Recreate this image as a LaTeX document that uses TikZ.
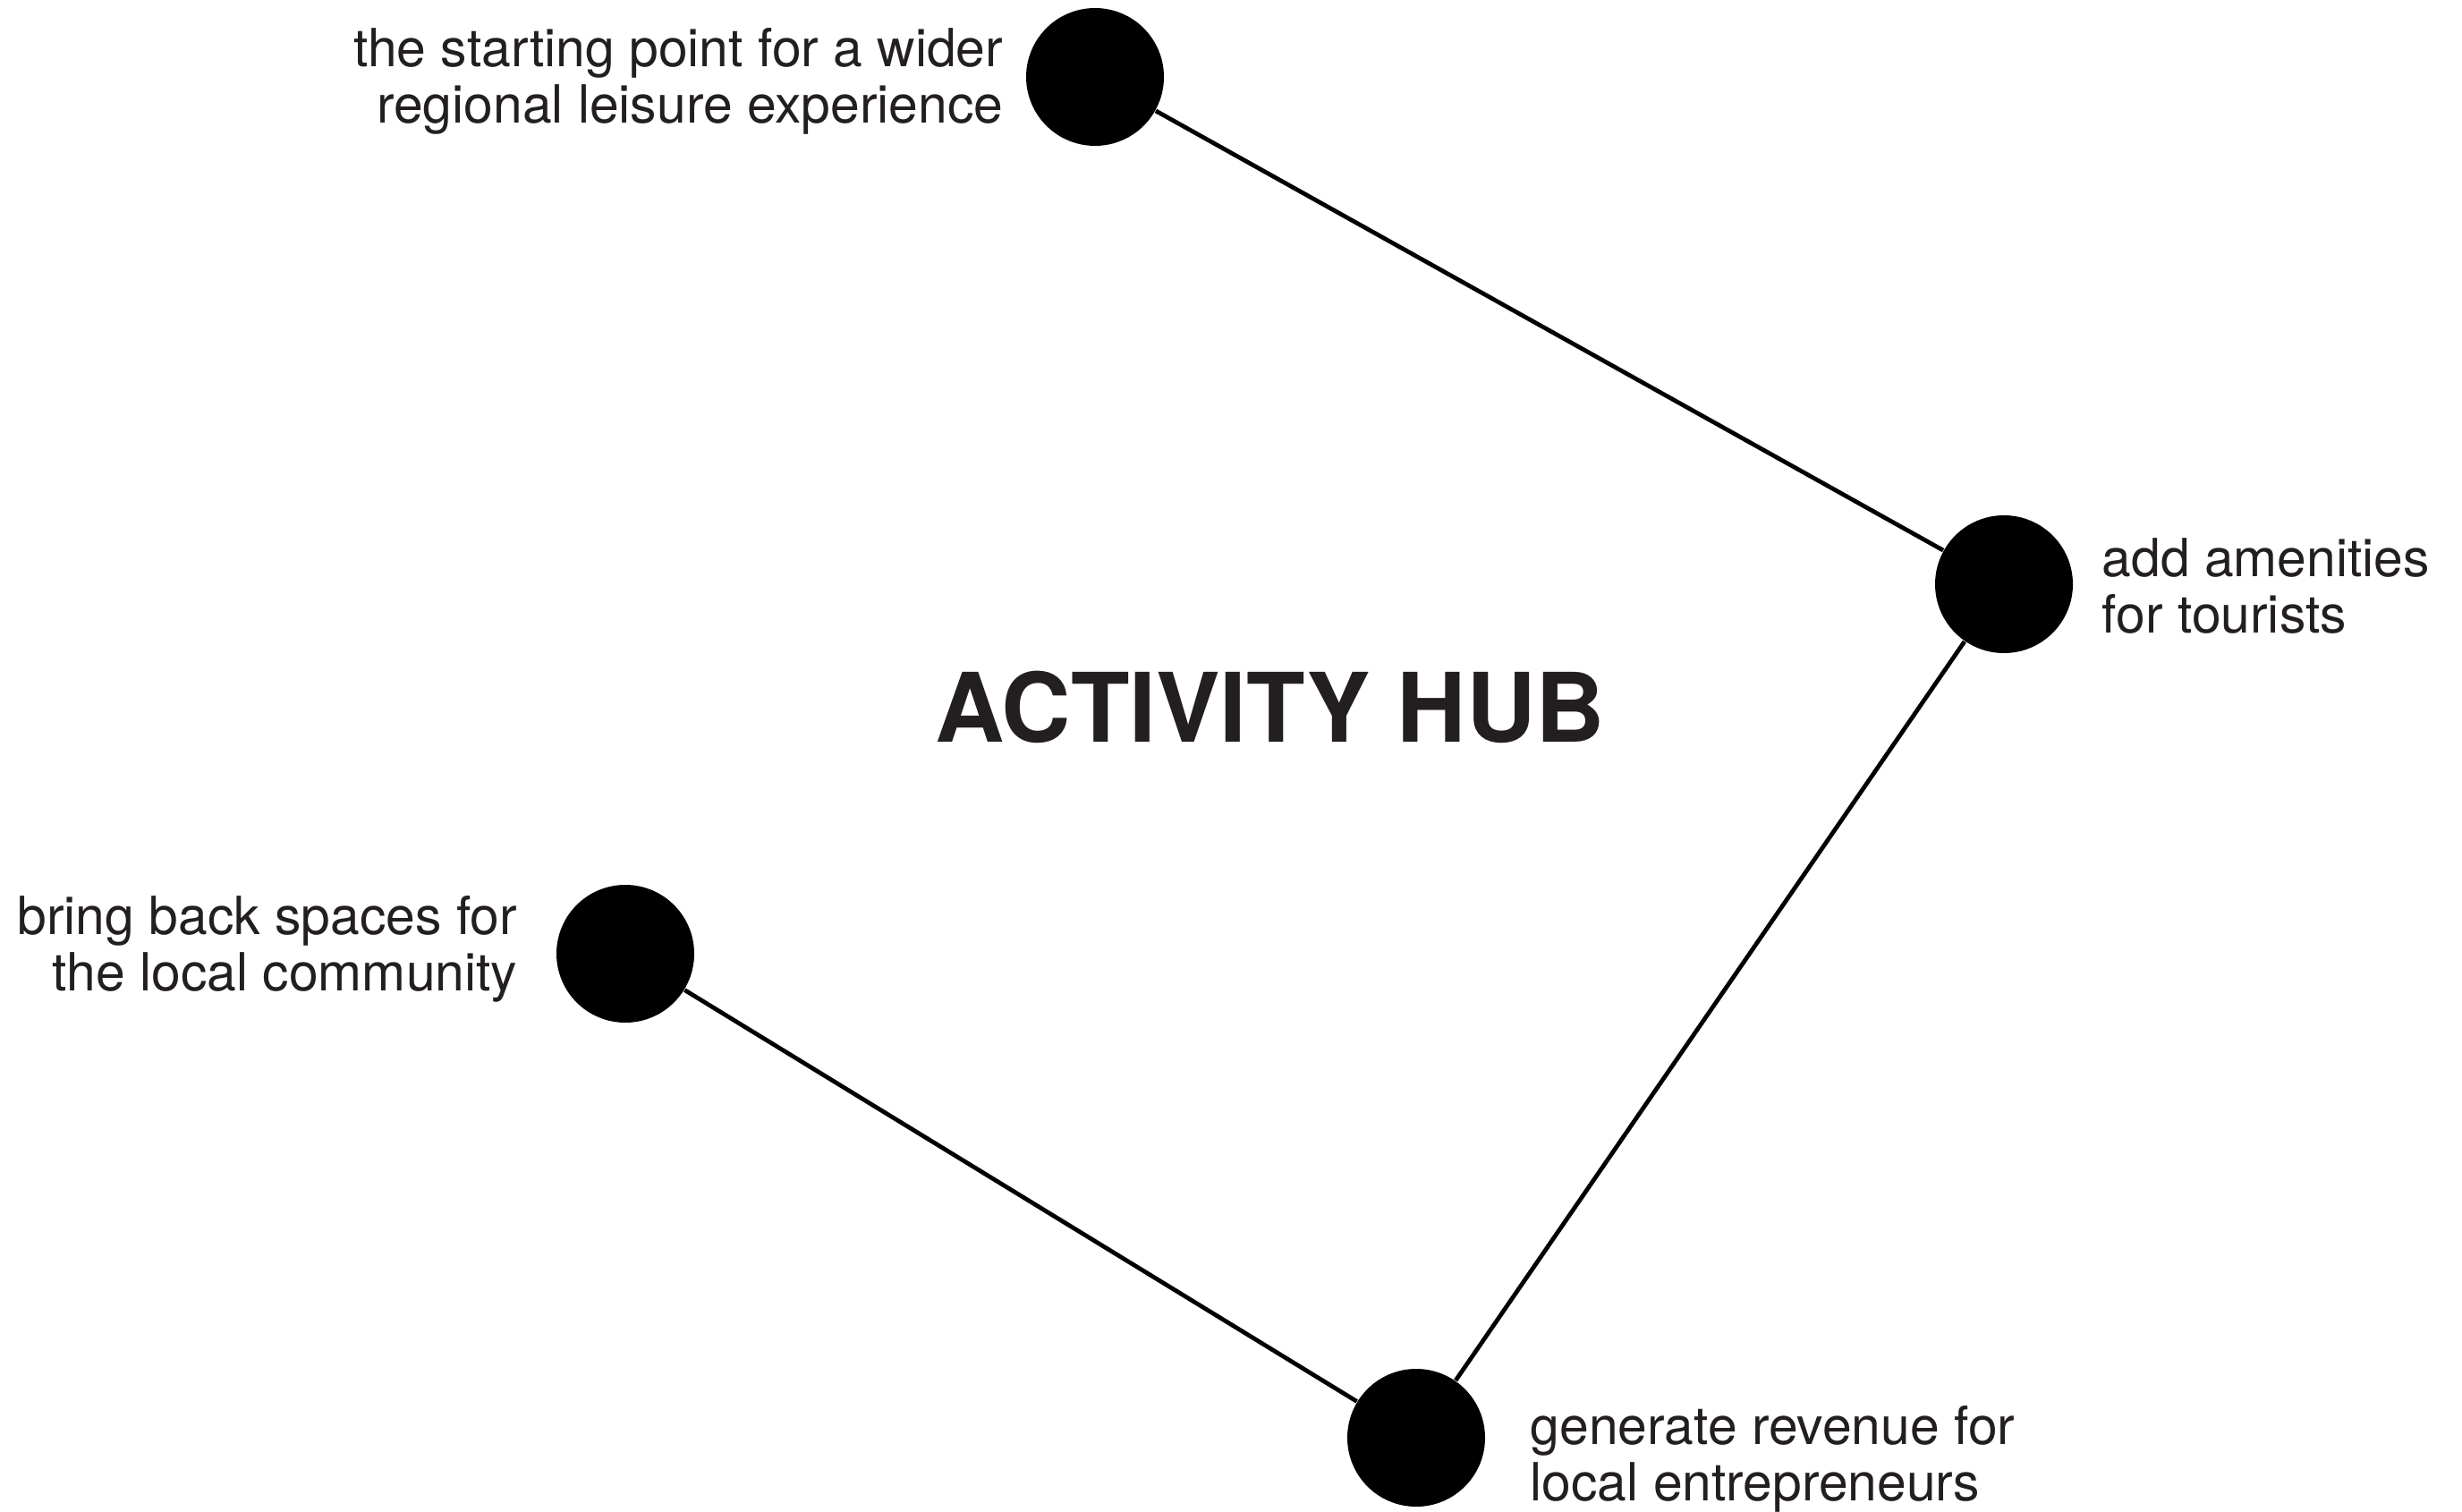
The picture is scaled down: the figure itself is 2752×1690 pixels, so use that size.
\documentclass[tikz,border=0pt]{standalone}
\usepackage{fontspec}
\setmainfont{TeX Gyre Heros}
\definecolor{ink}{HTML}{231F20}
\begin{document}
\begin{tikzpicture}[x=0.25pt,y=-0.25pt,
  dot/.style={circle,fill=black,draw=none,minimum size=38.5pt,inner sep=0pt},
  link/.style={line width=1.2pt,black},
  lbl/.style={inner sep=0pt,text=ink,font=\fontsize{14.7pt}{15.75pt}\selectfont},
  hub/.style={inner sep=0pt,text=ink,font=\fontsize{26.8pt}{30pt}\selectfont\bfseries}]
\useasboundingbox[fill=white] (0,0) rectangle (2752,1690);
\node[dot] (t) at (1224,86) {};
\node[dot] (r) at (2240,653) {};
\node[dot] (b) at (1583,1607) {};
\node[dot] (l) at (699,1066) {};
\draw[link] (t) -- (r);
\draw[link] (r) -- (b);
\draw[link] (b) -- (l);
\node[lbl,align=right,anchor=base east] (tl) at (1122,138) {the starting point for a wider\\regional leisure experience};
\node[lbl,align=left,anchor=base west] (rl) at (2349,707) {add amenities\\for tourists};
\node[lbl,align=right,anchor=base east] (ll) at (579,1107) {bring back spaces for\\the local community};
\node[lbl,align=left,anchor=base west] (bl) at (1710,1677) {generate revenue for\\local entrepreneurs};
\node[hub,anchor=base] (h) at (1420,829) {ACTIVITY HUB};
\end{tikzpicture}
\end{document}
